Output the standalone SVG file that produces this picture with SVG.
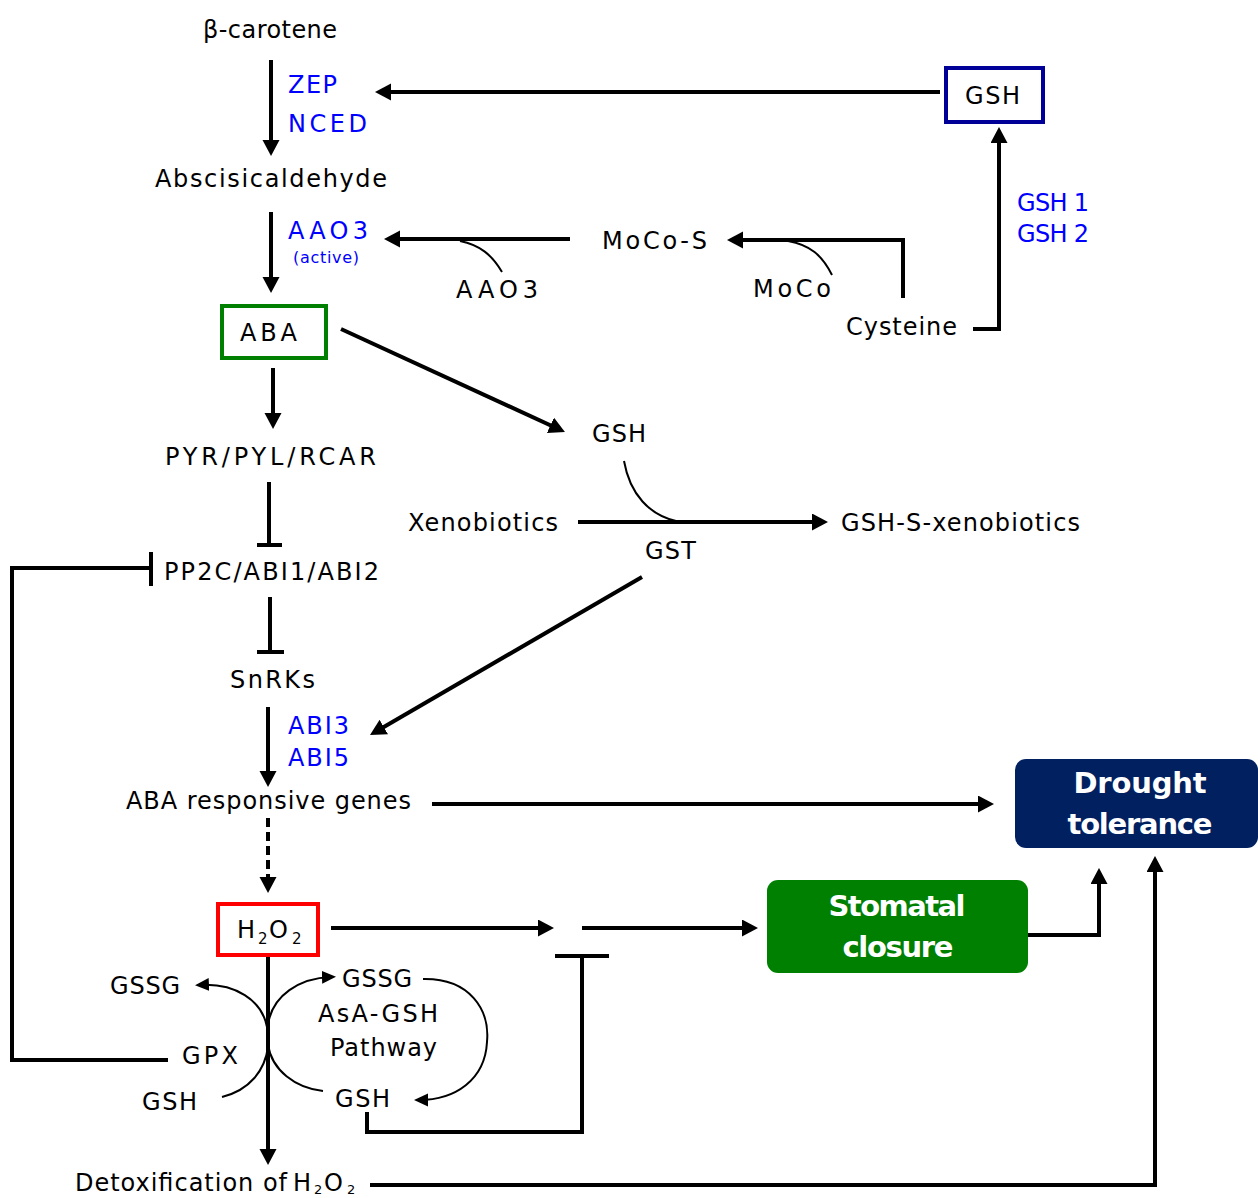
<svg xmlns="http://www.w3.org/2000/svg" width="1258" height="1198" viewBox="0 0 1258 1198">
<style>
text{font-family:"DejaVu Sans","Liberation Sans",sans-serif;font-size:24px;fill:#000}
.b{fill:#0000ff}
.w{fill:#fff;font-weight:bold;font-size:29px;text-anchor:middle}
.ln{fill:none;stroke:#000;stroke-width:4}
.th{fill:none;stroke:#000;stroke-width:2}
.a{marker-end:url(#ah)}
.s{marker-end:url(#as)}
</style>
<defs>
<marker id="ah" markerUnits="userSpaceOnUse" markerWidth="16" markerHeight="18" refX="10" refY="8.5" orient="auto"><path d="M0,0 L16,8.5 L0,17 z" fill="#000"/></marker>
<marker id="as" markerUnits="userSpaceOnUse" markerWidth="14" markerHeight="14" refX="9" refY="6.5" orient="auto"><path d="M0,0 L14,6.5 L0,13 z" fill="#000"/></marker>
</defs>
<rect width="1258" height="1198" fill="#fff"/>
<g id="connectors">
<path class="ln a" d="M271 60 V150"/>
<path class="ln a" d="M271 212 V287"/>
<path class="ln a" d="M940 92 H381"/>
<path class="ln a" d="M570 239 H390"/>
<path class="th" d="M502 272 C492 255 480 245 460 241"/>
<path class="ln a" d="M903 298 V240 H733"/>
<path class="th" d="M832 275 C822 255 810 245 788 241"/>
<path class="ln a" d="M973 329 H999 V133"/>
<path class="ln a" d="M273 368 V423"/>
<path class="ln a" d="M341 329 L559.5 429.5"/>
<path class="th" d="M624 461 C630 495 650 515 676 521"/>
<path class="ln a" d="M578 522 H822"/>
<path class="ln" d="M269 482 V545 M257 545 H282"/>
<path class="ln" d="M168 1060 H12 V568 H151 M151 552 V586"/>
<path class="ln" d="M270 597 V652 M257 652 H284"/>
<path class="ln a" d="M268 707 V781"/>
<path class="ln a" d="M642 577 L375.2 732"/>
<path class="ln a" d="M432 804 H988"/>
<path class="ln a" d="M268 818 V887" stroke-dasharray="9 5"/>
<path class="ln a" d="M331 928 H548"/>
<path class="ln a" d="M582 928 H752"/>
<path class="ln" d="M555 956 H609 M582 956 V1132 H367 V1112"/>
<path class="ln a" d="M268 957 V1159"/>
<path class="ln a" d="M1028 935 H1099 V874"/>
<path class="ln a" d="M370 1185 H1155 V862"/>
<path class="th s" d="M267 1027 C262 1000 235 983 200 985"/>
<path class="th s" d="M268 1025 C272 995 300 978 331 977"/>
<path class="th" d="M222 1097 C250 1090 265 1070 268 1047"/>
<path class="th" d="M268 1045 C272 1070 295 1088 323 1091"/>
<path class="th s" d="M423 979 C470 978 490 1010 487 1042 C485 1080 455 1100 419 1100"/>
</g>
<g id="n-carotene"><text x="203" y="38" textLength="134">β-carotene</text></g>
<g id="n-zep"><text class="b" x="288" y="93" textLength="49">ZEP</text><text class="b" x="288" y="132" textLength="79">NCED</text></g>
<g id="n-aldehyde"><text x="155" y="187" textLength="232">Abscisicaldehyde</text></g>
<g id="n-aao3a"><text class="b" x="288" y="239" textLength="80">AAO3</text><text class="b" x="293" y="263" style="font-size:16px" textLength="66">(active)</text></g>
<g id="n-aao3"><text x="456" y="298" textLength="82">AAO3</text></g>
<g id="n-mocos"><text x="602" y="249" textLength="105">MoCo-S</text></g>
<g id="n-moco"><text x="753" y="297" textLength="78">MoCo</text></g>
<g id="n-cysteine"><text x="846" y="335" textLength="111">Cysteine</text></g>
<g id="n-gshbox"><rect x="946" y="68" width="97" height="54" fill="none" stroke="#000099" stroke-width="4"/><text x="965" y="104" textLength="55">GSH</text></g>
<g id="n-gsh12"><text class="b" x="1017" y="211" textLength="72">GSH 1</text><text class="b" x="1017" y="242" textLength="72">GSH 2</text></g>
<g id="n-aba"><rect x="222" y="306" width="104" height="52" fill="none" stroke="#008000" stroke-width="4"/><text x="240" y="341" textLength="57">ABA</text></g>
<g id="n-pyr"><text x="165" y="465" textLength="211">PYR/PYL/RCAR</text></g>
<g id="n-gshmid"><text x="592" y="442" textLength="54">GSH</text></g>
<g id="n-xeno"><text x="408" y="531" textLength="150">Xenobiotics</text></g>
<g id="n-gshx"><text x="841" y="531" textLength="239">GSH-S-xenobiotics</text></g>
<g id="n-gst"><text x="645" y="559" textLength="51">GST</text></g>
<g id="n-pp2c"><text x="164" y="580" textLength="215">PP2C/ABI1/ABI2</text></g>
<g id="n-snrk"><text x="230" y="688" textLength="85">SnRKs</text></g>
<g id="n-abi"><text class="b" x="288" y="734" textLength="61">ABI3</text><text class="b" x="288" y="766" textLength="61">ABI5</text></g>
<g id="n-genes"><text x="126" y="809" textLength="285">ABA responsive genes</text></g>
<g id="n-drought"><rect x="1015" y="759" width="243" height="89" rx="11" fill="#002060"/><text class="w" x="1140" y="793" textLength="133">Drought</text><text class="w" x="1140" y="834" textLength="145">tolerance</text></g>
<g id="n-stomatal"><rect x="767" y="880" width="261" height="93" rx="11" fill="#008000"/><text class="w" x="897" y="916" textLength="137">Stomatal</text><text class="w" x="898" y="957" textLength="111">closure</text></g>
<g id="n-h2o2"><rect x="218" y="904" width="100" height="51" fill="none" stroke="#ff0000" stroke-width="4"/><text y="938"><tspan x="237">H</tspan><tspan x="258" y="944" style="font-size:15px">2</tspan><tspan x="269" y="938">O</tspan><tspan x="292" y="944" style="font-size:15px">2</tspan></text></g>
<g id="n-gssg1"><text x="110" y="994" textLength="70">GSSG</text></g>
<g id="n-gssg2"><text x="342" y="987" textLength="70">GSSG</text></g>
<g id="n-asa"><text x="318" y="1022" textLength="120">AsA-GSH</text><text x="330" y="1056" textLength="107">Pathway</text></g>
<g id="n-gpx"><text x="182" y="1064" textLength="56">GPX</text></g>
<g id="n-gsh1"><text x="142" y="1110" textLength="55">GSH</text></g>
<g id="n-gsh2"><text x="335" y="1107" textLength="55">GSH</text></g>
<g id="n-detox"><text y="1191"><tspan x="75" textLength="212">Detoxification of</tspan><tspan x="293">H</tspan><tspan x="314" y="1194" style="font-size:13px">2</tspan><tspan x="324" y="1191">O</tspan><tspan x="347" y="1194" style="font-size:13px">2</tspan></text></g>
</svg>
